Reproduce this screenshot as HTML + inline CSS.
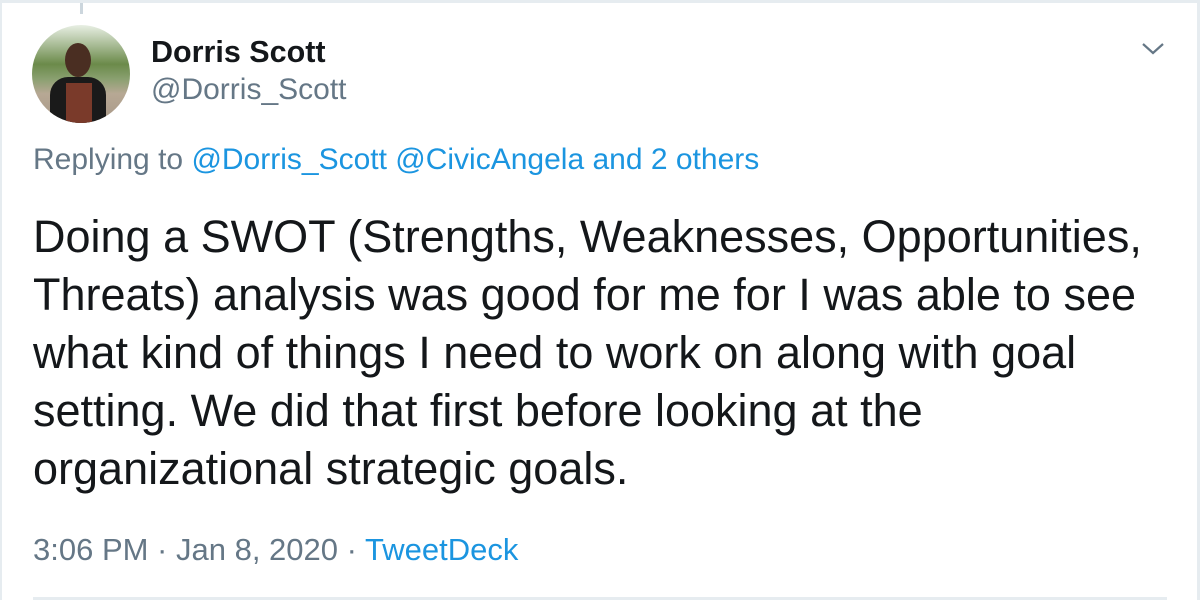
<!DOCTYPE html>
<html><head><meta charset="utf-8"><style>
body{margin:0;width:1200px;height:600px;background:#fff;font-family:"Liberation Sans",Arial,sans-serif;position:relative;overflow:hidden}
.a{position:absolute;white-space:nowrap}
</style></head><body>
<div class="a" style="left:0;top:0;width:1200px;height:3px;background:#e6ecf0"></div>
<div class="a" style="left:0;top:0;width:2px;height:600px;background:#e6ecf0"></div>
<div class="a" style="left:1197px;top:0;width:3px;height:600px;background:#e6ecf0"></div>
<div class="a" style="left:80px;top:3px;width:3px;height:11px;background:#ccd6dd"></div>
<div class="a" style="left:32px;top:25px;width:98px;height:98px;border-radius:50%;overflow:hidden;background:linear-gradient(#e8efe4 0%,#6b8a4a 40%,#8aa070 55%,#b7a894 70%,#a89888 100%)">
<div style="position:absolute;left:18px;top:52px;width:56px;height:50px;border-radius:18px 18px 0 0;background:#1a1a1a"></div>
<div style="position:absolute;left:34px;top:58px;width:26px;height:40px;background:#7a3a2a"></div>
<div style="position:absolute;left:33px;top:18px;width:26px;height:34px;border-radius:50%;background:#4a2e22"></div>
</div>
<div class="a" style="left:151px;top:35px;font-size:30.5px;font-weight:bold;color:#14171a">Dorris Scott</div>
<div class="a" style="left:151px;top:73px;font-size:30px;color:#657786">@Dorris_Scott</div>
<svg class="a" style="left:1140px;top:40px" width="26" height="18"><path d="M3 4 L13 13 L23 4" fill="none" stroke="#657786" stroke-width="2.2"/></svg>
<div class="a" style="left:33px;top:143px;font-size:30px;color:#657786">Replying to <span style="color:#1b95e0">@Dorris_Scott @CivicAngela and 2 others</span></div>
<div class="a" style="left:33px;top:208px;font-size:45px;line-height:58px;color:#14171a">Doing a SWOT (Strengths, Weaknesses, Opportunities,<br>Threats) analysis was good for me for I was able to see<br>what kind of things I need to work on along with goal<br>setting. We did that first before looking at the<br>organizational strategic goals.</div>
<div class="a" style="left:33px;top:532px;font-size:31px;color:#657786">3:06 PM · Jan 8, 2020 · <span style="color:#1b95e0">TweetDeck</span></div>
<div class="a" style="left:33px;top:597px;width:1134px;height:3px;background:#e6ecf0"></div>
</body></html>
